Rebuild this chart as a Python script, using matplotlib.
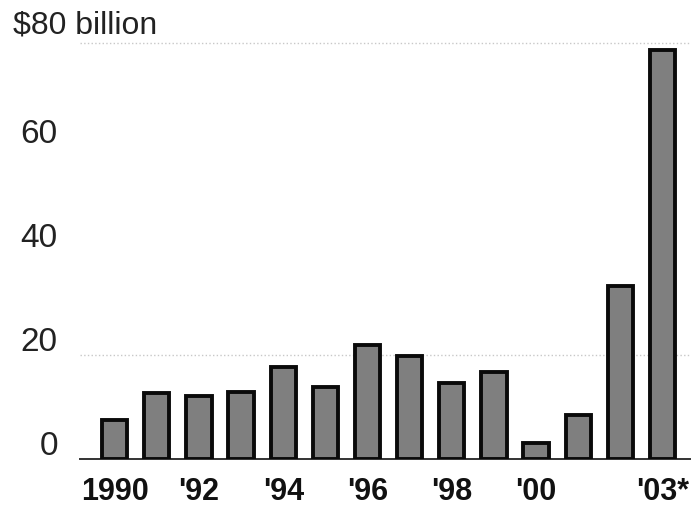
import matplotlib
matplotlib.use("Agg")
import matplotlib.pyplot as plt
from matplotlib.transforms import ScaledTranslation

years = [1990, 1991, 1992, 1993, 1994, 1995, 1996, 1997, 1998, 1999, 2000, 2001, 2002, 2003]
values = [7.5, 12.7, 12.1, 12.9, 17.7, 13.9, 22.0, 19.8, 14.6, 16.8, 3.0, 8.5, 33.3, 78.6]
xtick_years = [1990, 1992, 1994, 1996, 1998, 2000, 2003]
xtick_labels = ["1990", "'92", "'94", "'96", "'98", "'00", "'03*"]
ytick_values = [0, 20, 40, 60]
ytick_labels = ["0", "20", "40", "60"]
unit_label = "$80 billion"

plt.rcParams['font.family'] = ['Liberation Sans', 'DejaVu Sans']

fig = plt.figure(figsize=(6.91, 5.10), dpi=100)
ax = fig.add_axes([80/691, 50/510, 610/691, 420/510])

ax.bar(years, values, width=0.6, color='#7f7f7f', edgecolor='#0a0a0a', linewidth=2.8, zorder=3)

for g in (20, 80):
    ax.axhline(g, color='#c8c8c8', linestyle=':', linewidth=1.0, zorder=1)

ax.set_xlim(1989.18, 2003.65)
ax.set_ylim(0, 80.8)

for s in ('top', 'right', 'left'):
    ax.spines[s].set_visible(False)
ax.spines['bottom'].set_color('#333333')
ax.spines['bottom'].set_linewidth(1.4)
ax.spines['bottom'].set_linestyle((0, (2, 1)))

ax.set_xticks(xtick_years)
ax.set_xticklabels(xtick_labels, fontsize=22, fontweight='bold', color='#111111')
ax.tick_params(axis='x', length=0, pad=12)

ax.set_yticks(ytick_values)
ax.set_yticklabels(ytick_labels, fontsize=24, color='#222222')
ax.tick_params(axis='y', length=0, pad=16)
for lbl in ax.get_yticklabels():
    lbl.set_transform(lbl.get_transform() + ScaledTranslation(0, 17/100, fig.dpi_scale_trans))

fig.text(13/691, 1 - 25/510, unit_label, fontsize=23, color='#222222', ha='left', va='center')

fig.savefig('out.png', dpi=100, facecolor='white')
